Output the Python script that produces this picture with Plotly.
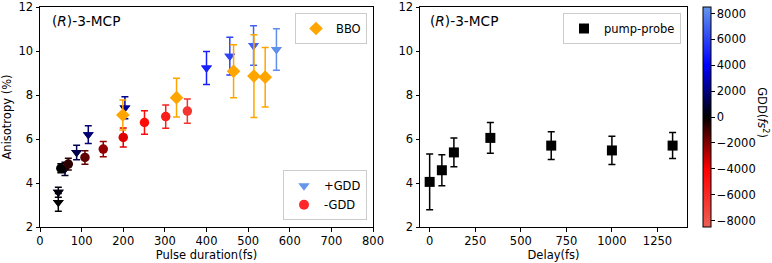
import plotly.graph_objects as go
from plotly.subplots import make_subplots
from plotly.colors import sample_colorscale

# ---- data: left panel (pulse duration) ----
pos_x = [44, 44, 60, 88, 116, 204, 400, 456, 513, 568]          # +GDD triangles
pos_y = [3.12, 3.58, 4.64, 5.39, 6.20, 7.42, 9.23, 9.77, 10.25, 10.07]
pos_err = [0.40, 0.23, 0.30, 0.33, 0.40, 0.50, 0.75, 0.86, 0.90, 0.94]
pos_gdd = [0, 200, 650, 1200, 1800, 2300, 5000, 6000, 7000, 8300]

neg_x = [50, 68, 108, 152, 200, 251, 302, 354]                    # -GDD circles
neg_y = [4.67, 4.86, 5.16, 5.54, 6.07, 6.75, 7.02, 7.27]
neg_err = [0.20, 0.27, 0.31, 0.35, 0.43, 0.53, 0.53, 0.55]
neg_gdd = [0, -700, -1500, -2300, -3500, -4500, -5500, -6500]

bbo_x = [199, 328, 465, 514, 541]                                 # BBO diamonds
bbo_y = [7.09, 7.88, 9.08, 8.86, 8.81]
bbo_err = [0.68, 0.88, 1.20, 1.88, 1.35]

# ---- data: right panel (pump-probe) ----
pp_x = [0, 67, 133, 333, 667, 1000, 1333]
pp_y = [4.05, 4.58, 5.39, 6.05, 5.70, 5.48, 5.70]
pp_err = [1.27, 0.70, 0.65, 0.70, 0.63, 0.64, 0.59]

left_xticks = [0, 100, 200, 300, 400, 500, 600, 700, 800]
right_xticks = [0, 250, 500, 750, 1000, 1250]
yticks = [2, 4, 6, 8, 10, 12]
cbar_ticks = [-8000, -6000, -4000, -2000, 0, 2000, 4000, 6000, 8000]

GMIN, GMAX = -8500, 8500
cscale = [
    [0.0, "rgb(238,95,85)"],
    [(-4000 - GMIN) / (GMAX - GMIN), "rgb(255,0,0)"],
    [0.5, "rgb(0,0,0)"],
    [(4000 - GMIN) / (GMAX - GMIN), "rgb(0,0,255)"],
    [1.0, "rgb(100,150,235)"],
]


def gcol(g):
    return sample_colorscale(cscale, [(g - GMIN) / (GMAX - GMIN)])[0]


FONT = "DejaVu Sans"
FS = 11.5
ORANGE = "#ffa500"

W, H = 772, 263
ml, mr, mt, mb = 40, 85, 7.0, 36.3
pw = W - ml - mr
ph = H - mt - mb
BOT = H - mb  # pixel row of the x axis line

fig = make_subplots(rows=1, cols=2, horizontal_spacing=0.0)

# colorbar carrier (drawn underneath identical per-point markers)
fig.add_trace(go.Scatter(
    x=pos_x, y=pos_y, mode="markers", showlegend=False, hoverinfo="skip",
    marker=dict(symbol="triangle-down", size=9.5, color=pos_gdd, colorscale=cscale,
                cmin=GMIN, cmax=GMAX, showscale=True,
                colorbar=dict(thickness=8, len=ph, lenmode="pixels", y=0.5, yanchor="middle",
                              x=(703 - ml) / pw, xanchor="left", xpad=0, ypad=0,
                              outlinewidth=1, outlinecolor="black",
                              ticks="outside", ticklen=3.5, tickwidth=1, tickcolor="black",
                              ticklabeloverflow="allow",
                              tickvals=cbar_ticks, tickfont=dict(family=FONT, size=FS, color="black"))),
), row=1, col=1)

# per-point error bars with colors
for x, y, e, g in zip(pos_x, pos_y, pos_err, pos_gdd):
    c = gcol(g)
    fig.add_trace(go.Scatter(x=[x], y=[y], mode="markers", showlegend=False,
                             marker=dict(symbol="triangle-down", size=9.5, color=c),
                             error_y=dict(type="data", array=[e], color=c, thickness=1.5, width=3.5)),
                  row=1, col=1)
for x, y, e, g in zip(neg_x, neg_y, neg_err, neg_gdd):
    c = gcol(g)
    fig.add_trace(go.Scatter(x=[x], y=[y], mode="markers", showlegend=False,
                             marker=dict(symbol="circle", size=9.5, color=c),
                             error_y=dict(type="data", array=[e], color=c, thickness=1.5, width=3.5)),
                  row=1, col=1)
fig.add_trace(go.Scatter(x=bbo_x, y=bbo_y, mode="markers", name="BBO", legend="legend",
                         marker=dict(symbol="diamond", size=10.5, color=ORANGE),
                         error_y=dict(type="data", array=bbo_err, color=ORANGE, thickness=1.5, width=3.5)),
              row=1, col=1)

# legend proxies for +GDD / -GDD
fig.add_trace(go.Scatter(x=[None], y=[None], mode="markers", name="+GDD", legend="legend2",
                         marker=dict(symbol="triangle-down", size=10, color="rgb(100,150,235)")),
              row=1, col=1)
fig.add_trace(go.Scatter(x=[None], y=[None], mode="markers", name="-GDD", legend="legend2",
                         marker=dict(symbol="circle", size=10, color="rgb(255,40,40)")),
              row=1, col=1)

fig.add_trace(go.Scatter(x=pp_x, y=pp_y, mode="markers", name="pump-probe", legend="legend3",
                         marker=dict(symbol="square", size=10, color="black"),
                         error_y=dict(type="data", array=pp_err, color="black", thickness=1.5, width=3.5)),
              row=1, col=2)

axis_common = dict(showline=True, mirror=True, linecolor="black", linewidth=1, ticks="outside",
                   ticklen=3.5, tickwidth=1, tickcolor="black", showgrid=False, zeroline=False,
                   automargin=False, ticklabeloverflow="allow",
                   tickfont=dict(family=FONT, size=FS, color="black"))

fig.update_xaxes(axis_common)
fig.update_yaxes(axis_common)
fig.update_xaxes(range=[0, 800], tickvals=left_xticks, domain=[0, (373 - ml) / pw],
                 title=dict(text="Pulse duration(fs)", font=dict(family=FONT, size=FS, color="black"), standoff=3),
                 row=1, col=1)
fig.update_xaxes(range=[-53, 1412], tickvals=right_xticks, domain=[(420 - ml) / pw, 1],
                 title=dict(text="Delay(fs)", font=dict(family=FONT, size=FS, color="black"), standoff=3),
                 row=1, col=2)
fig.update_yaxes(range=[2, 12], tickvals=yticks,
                 title=dict(text="Anisotropy (%)", font=dict(family=FONT, size=FS, color="black"), standoff=5),
                 row=1, col=1)
fig.update_yaxes(range=[2, 12], tickvals=yticks, row=1, col=2)

leg_common = dict(bgcolor="white", bordercolor="#cccccc", borderwidth=1,
                  font=dict(family=FONT, size=FS, color="black"), xanchor="right")
fig.update_layout(
    width=W, height=H, margin=dict(l=ml, r=mr, t=mt, b=mb, autoexpand=False),
    plot_bgcolor="white", paper_bgcolor="white",
    font=dict(family=FONT, size=FS, color="black"),
    legend=dict(leg_common, x=(367 - ml) / pw, y=(BOT - 13) / ph, yanchor="top"),
    legend2=dict(leg_common, x=(367 - ml) / pw, y=(BOT - 220) / ph, yanchor="bottom"),
    legend3=dict(leg_common, x=(681 - ml) / pw, y=(BOT - 13) / ph, yanchor="top"),
)

for xr, yr in [("x domain", "y domain"), ("x2 domain", "y2 domain")]:
    fig.add_annotation(text="(<i>R</i>)-3-MCP", xref=xr, yref=yr, x=0.03, y=0.935,
                       xanchor="left", yanchor="middle", showarrow=False,
                       font=dict(family=FONT, size=13.7, color="black"))

fig.add_annotation(text="GDD(<i>fs</i><sup>2</sup>)", xref="paper", yref="paper",
                   x=(763 - ml) / pw, y=(BOT - 112) / ph, xanchor="center", yanchor="middle",
                   textangle=90, showarrow=False, font=dict(family=FONT, size=FS, color="black"))

fig.write_html("out.html", config={"displayModeBar": False},
               post_script="document.body.style.margin='0';document.body.style.overflow='hidden';")
